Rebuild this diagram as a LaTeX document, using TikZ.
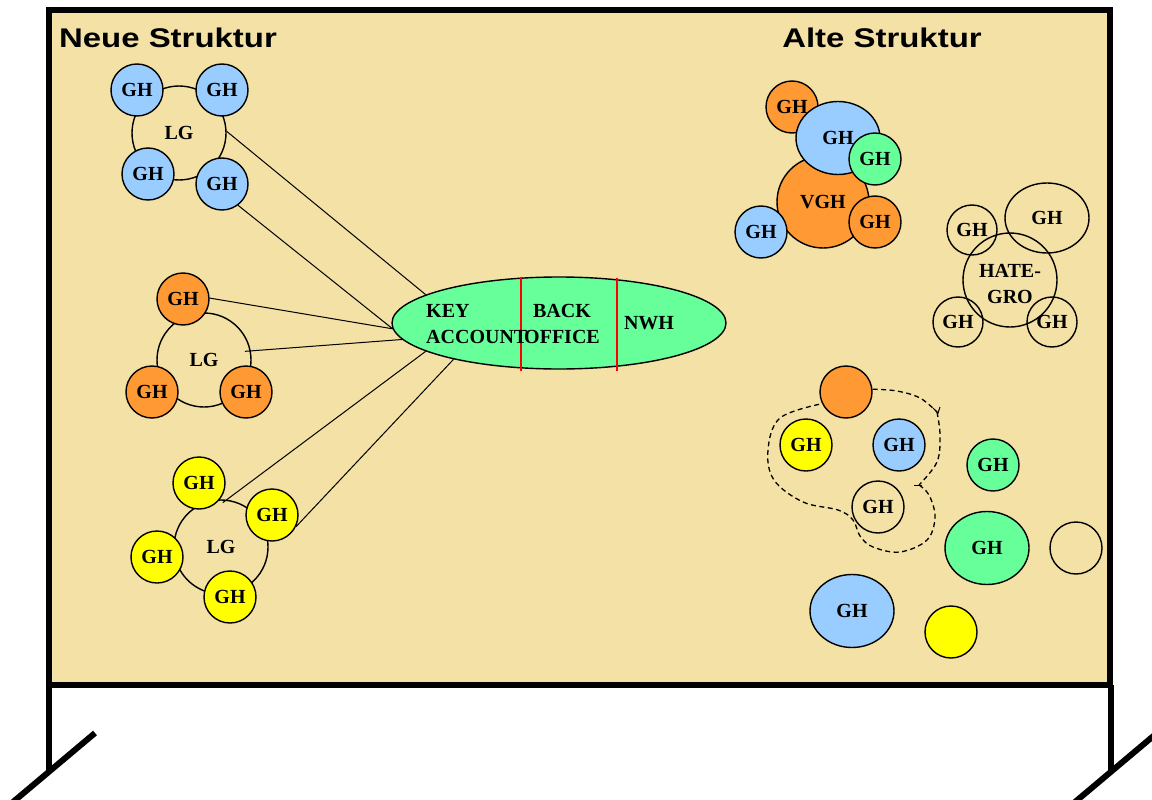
\documentclass[tikz,border=0pt]{standalone}
\usepackage{fontspec}
\usepackage{graphicx}
\setmainfont{Liberation Serif}
\newfontfamily\titlefont{Liberation Sans}
\usetikzlibrary{shapes.geometric}
\definecolor{bg}{RGB}{243,225,165}
\definecolor{gblue}{RGB}{153,204,255}
\definecolor{gorange}{RGB}{255,153,51}
\definecolor{ggreen}{RGB}{102,255,153}
\definecolor{gyellow}{RGB}{255,255,0}
\newcommand\ghfont{\fontsize{20}{26}\selectfont\bfseries}
\newcommand\ttlfont{\titlefont\fontsize{27}{27}\selectfont\bfseries}
\begin{document}
\begin{tikzpicture}[x=1pt,y=-1pt,
  gh/.style={circle,draw,line width=1.4pt,minimum size=52pt,inner sep=0pt,font=\ghfont},
  ghe/.style={ellipse,draw,line width=1.4pt,minimum width=84pt,minimum height=73pt,inner sep=0pt,font=\ghfont},
  lg/.style={circle,draw,line width=1.4pt,minimum size=94pt,inner sep=0pt,font=\ghfont,align=center},
  conn/.style={line width=1pt},
  dashline/.style={line width=1.3pt,dash pattern=on 5pt off 3.5pt},
  ttl/.style={font=\ttlfont,inner sep=0pt},
  lbl/.style={font=\ghfont,inner sep=0pt},
  sep/.style={red,line width=1.3pt},
  frame/.style={line width=6pt}]
\useasboundingbox (0,0) rectangle (1152,800);
% board
\draw[frame,fill=bg] (49,10) rectangle (1110,685);
\draw[frame] (49,685) -- (49,770);
\draw[frame] (95,733) -- (13,802);
\draw[frame] (1111,685) -- (1111,770);
\draw[frame] (1157,733) -- (1075,802);
% titles
\node[ttl] (neu) at (168,38) {\scalebox{1.22}[1]{Neue Struktur}};
\node[ttl] (alt) at (882,38) {\scalebox{1.22}[1]{Alte Struktur}};
% group 1 (blue)
\node[lg] (lg1) at (179,133) {LG};
\node[gh,fill=gblue] (g1a) at (137,90) {GH};
\node[gh,fill=gblue] (g1b) at (222,90) {GH};
\node[gh,fill=gblue] (g1c) at (148,174) {GH};
\node[gh,fill=gblue] (g1d) at (222,184) {GH};
% group 2 (orange)
\node[lg] (lg2) at (204,360) {LG};
\node[gh,fill=gorange] (g2a) at (183,299) {GH};
\node[gh,fill=gorange] (g2b) at (152,392) {GH};
\node[gh,fill=gorange] (g2c) at (246,392) {GH};
% group 3 (yellow)
\node[lg] (lg3) at (221,547) {LG};
\node[gh,fill=gyellow] (g3a) at (199,483) {GH};
\node[gh,fill=gyellow] (g3b) at (272,515) {GH};
\node[gh,fill=gyellow] (g3c) at (157,557) {GH};
\node[gh,fill=gyellow] (g3d) at (230,597) {GH};
% key account ellipse
\node[ellipse,draw,line width=1.4pt,fill=ggreen,minimum width=334pt,minimum height=92pt,inner sep=0pt] (ko) at (559,323) {};
\draw[sep] (521,277) coordinate (s1a) -- (521,371) coordinate (s1b);
\draw[sep] (617,278) coordinate (s2a) -- (617,371) coordinate (s2b);
\node[lbl,anchor=west,align=left] (key) at (426,324) {KEY\\ACCOUNT};
\node[lbl,align=center] (back) at (562,324) {BACK\\OFFICE};
\node[lbl] (nwh) at (649,323) {NWH};
% connectors
\draw[conn] (lg1.2) -- (ko.168);
\draw[conn] (g1d.-53) -- (ko.182);
\draw[conn] (g2a.2) -- (ko.182);
\draw[conn,shorten <=-6pt] (lg2.11) -- (ko.186);
\draw[conn,shorten <=-5pt] (lg3.83) -- (ko.192);
\draw[conn] (g3b.-26) -- (ko.199);
% VGH cluster
\node[gh,fill=gorange] (v1) at (792,107) {GH};
\node[circle,draw,line width=1.4pt,fill=gorange,minimum size=92pt,inner sep=0pt,font=\ghfont] (vgh) at (823,202) {VGH};
\node[ghe,fill=gblue] (v2) at (838,138) {GH};
\node[gh,fill=ggreen] (v3) at (875,159) {GH};
\node[gh,fill=gorange] (v4) at (875,222) {GH};
\node[gh,fill=gblue] (v5) at (761,232) {GH};
% HATE-GRO cluster
\node[gh,minimum size=50pt] (h1) at (972,230) {GH};
\node[ghe,minimum height=70pt] (h2) at (1047,218) {GH};
\node[lg] (hg) at (1010,280) {};
\node[lbl,align=center] (hgt) at (1010,284) {HATE-\\GRO};
\node[gh,minimum size=50pt] (h3) at (958,322) {GH};
\node[gh,minimum size=50pt] (h4) at (1052,322) {GH};
% lower right
\node[gh,fill=gorange] (b1) at (846,392) {};
\node[gh,fill=gyellow] (b2) at (806,445) {GH};
\node[gh,fill=gblue] (b3) at (899,445) {GH};
\node[gh] (b4) at (878,507) {GH};
\node[gh,fill=ggreen] (b5) at (993,465) {GH};
\node[ghe,fill=ggreen] (b6) at (987,548) {GH};
\node[gh] (b7) at (1076,548) {};
\node[ghe,fill=gblue] (b8) at (852,611) {GH};
\node[gh,fill=gyellow] (b9) at (951,632) {};
% dashed boundary
\coordinate (t1) at (937,412);
\coordinate (t2) at (919,485);
\draw[dashline] plot[smooth,tension=0.6] coordinates {(b1.6) (897,391) (920,398) (t1)};
\draw[dashline] plot[smooth,tension=0.6] coordinates {(t1) (940,435) (937,462) (t2)};
\draw[dashline] plot[smooth,tension=0.6] coordinates {(t2) (929,495) (935,517) (927,540) (900,552) (873,547) (860,536) (853,520) (838,510) (803,502) (774,480) (768,450) (780,418) (b1.206)};
\draw[line width=1pt] (933,408) -- (938,413) -- (940,407);
\draw[line width=1pt] (914,485) -- (922,485);
\end{tikzpicture}
\end{document}
